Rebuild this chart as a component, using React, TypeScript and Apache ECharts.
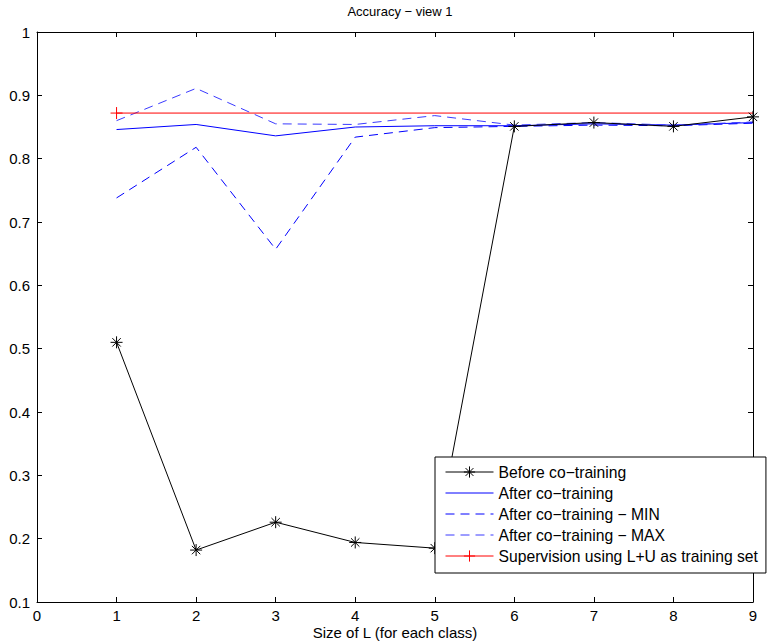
import React, { useEffect, useRef } from "react";
import * as echarts from "echarts";

const xValues = [1, 2, 3, 4, 5, 6, 7, 8, 9];
const beforeCoTraining = [0.51, 0.182, 0.226, 0.194, 0.185, 0.851, 0.857, 0.851, 0.866];
const afterCoTraining = [0.846, 0.854, 0.836, 0.85, 0.852, 0.852, 0.855, 0.853, 0.857];
const afterMin = [0.738, 0.818, 0.657, 0.834, 0.849, 0.851, 0.853, 0.852, 0.856];
const afterMax = [0.86, 0.911, 0.855, 0.854, 0.868, 0.853, 0.857, 0.853, 0.858];
const supervisionX = [1, 9];
const supervisionY = [0.872, 0.872];

const seriesNames = [
  "Before co\u2212training",
  "After co\u2212training",
  "After co\u2212training \u2212 MIN",
  "After co\u2212training \u2212 MAX",
  "Supervision using L+U as training set",
];

const FONT = "Liberation Sans, Arial, Helvetica, sans-serif";
const STAR = "path://M0,5 L10,5 M5,0 L5,10 M1.5,1.5 L8.5,8.5 M8.5,1.5 L1.5,8.5";
const PLUS = "path://M0,5 L10,5 M5,0 L5,10";
const DASH = [9, 6];

const pairs = (xs: number[], ys: number[]) => xs.map((x, i) => [x, ys[i]]);

export default function App() {
  const ref = useRef<HTMLDivElement>(null);
  useEffect(() => {
    if (!ref.current) return;
    const chart = echarts.init(ref.current, undefined, { renderer: "svg" });
    const axisCommon = () => ({
      type: "value" as const,
      axisLine: { show: true, onZero: false, lineStyle: { color: "#000", width: 1 } },
      axisTick: { show: true, inside: true, length: 5, lineStyle: { color: "#000" } },
      splitLine: { show: false },
    });
    const hiddenIcon = () => ({ color: "transparent", borderColor: "transparent", borderWidth: 0 });
    const markIcon = (c: string) => ({ color: "transparent", borderColor: c, borderWidth: 1 });
    chart.setOption({
      animation: false,
      backgroundColor: "#fff",
      title: {
        text: "Accuracy \u2212 view 1",
        left: 395,
        top: 0,
        textAlign: "center",
        textStyle: { fontFamily: FONT, fontSize: 13, fontWeight: "normal", color: "#000" },
      },
      grid: { left: 37, right: 14, top: 32, bottom: 40, containLabel: false, outerBoundsMode: "none" },
      xAxis: [
        {
          ...axisCommon(),
          position: "bottom",
          min: 0,
          max: 9,
          interval: 1,
          axisLabel: { color: "#000", fontFamily: FONT, fontSize: 15, lineHeight: 15, margin: 6 },
          name: "Size of L (for each class)",
          nameLocation: "middle",
          nameGap: 23,
          nameMoveOverlap: false,
          nameTextStyle: { color: "#000", fontFamily: FONT, fontSize: 15, lineHeight: 15 },
        },
        {
          ...axisCommon(),
          position: "top",
          min: 0,
          max: 9,
          interval: 1,
          axisLabel: { show: false },
        },
      ],
      yAxis: [
        {
          ...axisCommon(),
          position: "left",
          min: 0.1,
          max: 1,
          interval: 0.1,
          axisLabel: {
            color: "#000",
            fontFamily: FONT,
            fontSize: 15,
            margin: 7,
            formatter: (v: number) => (Math.abs(v - 1) < 1e-9 ? "1" : v.toFixed(1)),
          },
        },
        {
          ...axisCommon(),
          position: "right",
          min: 0.1,
          max: 1,
          interval: 0.1,
          axisLabel: { show: false },
        },
      ],
      legend: {
        orient: "vertical",
        left: 435,
        top: 457,
        data: [
          {
            name: seriesNames[0],
            itemStyle: markIcon("#000"),
            lineStyle: { color: "#000", width: 1, type: "solid" },
          },
          {
            name: seriesNames[1],
            itemStyle: hiddenIcon(),
            lineStyle: { color: "#0000ff", width: 1, type: "solid" },
          },
          {
            name: seriesNames[2],
            itemStyle: hiddenIcon(),
            lineStyle: { color: "#0000ff", width: 1, type: DASH },
          },
          {
            name: seriesNames[3],
            itemStyle: hiddenIcon(),
            lineStyle: { color: "#3a3aff", width: 1, type: DASH },
          },
          {
            name: seriesNames[4],
            itemStyle: markIcon("#ff0000"),
            lineStyle: { color: "#ff0000", width: 1, type: "solid" },
          },
        ],
        itemWidth: 48,
        itemHeight: 14,
        itemGap: 5,
        padding: [7, 8, 9, 10],
        borderColor: "#000",
        borderWidth: 1,
        backgroundColor: "#fff",
        borderRadius: 0,
        textStyle: { color: "#000", fontFamily: FONT, fontSize: 15.7 },
        selectedMode: false,
      },
      series: [
        {
          name: seriesNames[1],
          type: "line",
          data: pairs(xValues, afterCoTraining),
          symbol: "none",
          clip: false,
          lineStyle: { color: "#0000ff", width: 1 },
        },
        {
          name: seriesNames[2],
          type: "line",
          data: pairs(xValues, afterMin),
          symbol: "none",
          clip: false,
          lineStyle: { color: "#0000ff", width: 1, type: DASH },
        },
        {
          name: seriesNames[3],
          type: "line",
          data: pairs(xValues, afterMax),
          symbol: "none",
          clip: false,
          lineStyle: { color: "#3a3aff", width: 1, type: DASH },
        },
        {
          name: seriesNames[4],
          type: "line",
          data: pairs(supervisionX, supervisionY).map((p, i) =>
            i === 0 ? { value: p } : { value: p, symbol: "none" }
          ),
          symbol: PLUS,
          symbolSize: 12,
          showAllSymbol: true,
          clip: false,
          lineStyle: { color: "#ff0000", width: 1 },
          itemStyle: { color: "transparent", borderColor: "#ff0000", borderWidth: 1 },
        },
        {
          name: seriesNames[0],
          type: "line",
          data: pairs(xValues, beforeCoTraining),
          symbol: STAR,
          symbolSize: 12,
          showAllSymbol: true,
          clip: false,
          lineStyle: { color: "#000", width: 1 },
          itemStyle: { color: "transparent", borderColor: "#000", borderWidth: 1 },
        },
      ],
    });
    return () => chart.dispose();
  }, []);
  return (
    <div
      ref={ref}
      style={{ position: "fixed", left: 0, top: 0, width: 767, height: 642, background: "#fff" }}
    />
  );
}
